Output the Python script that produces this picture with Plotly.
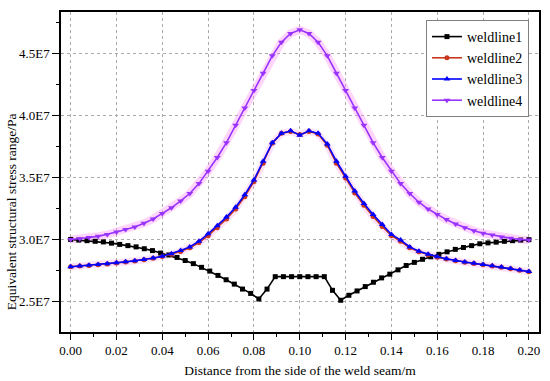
import plotly.graph_objects as go

# x positions (m)
x_w1 = [0, 0.00357, 0.00714, 0.01071, 0.01429, 0.01786, 0.02143, 0.025, 0.02857, 0.03214,
        0.03571, 0.03929, 0.04286, 0.04643, 0.05, 0.05357, 0.05714, 0.06071, 0.06429, 0.06786,
        0.07143, 0.075, 0.07857, 0.08214, 0.08571, 0.08929, 0.09286, 0.09643, 0.1, 0.10357,
        0.10714, 0.11071, 0.11429, 0.11786, 0.12143, 0.125, 0.12857, 0.13214, 0.13571, 0.13929,
        0.14286, 0.14643, 0.15, 0.15357, 0.15714, 0.16071, 0.16429, 0.16786, 0.17143, 0.175,
        0.17857, 0.18214, 0.18571, 0.18929, 0.19286, 0.19643, 0.2]
x_w = [0.000, 0.004, 0.008, 0.012, 0.016, 0.020, 0.024, 0.028, 0.032, 0.036,
       0.040, 0.044, 0.048, 0.052, 0.056, 0.060, 0.064, 0.068, 0.072, 0.076,
       0.080, 0.084, 0.088, 0.092, 0.096, 0.100, 0.104, 0.108, 0.112, 0.116,
       0.120, 0.124, 0.128, 0.132, 0.136, 0.140, 0.144, 0.148, 0.152, 0.156,
       0.160, 0.164, 0.168, 0.172, 0.176, 0.180, 0.184, 0.188, 0.192, 0.196, 0.200]

# stress values in units of 1E7 Pa
weldline1 = [3.000, 2.995, 2.990, 2.985, 2.980, 2.970, 2.960, 2.950, 2.940, 2.925,
             2.910, 2.890, 2.875, 2.855, 2.830, 2.805, 2.775, 2.745, 2.710, 2.675,
             2.640, 2.600, 2.565, 2.520, 2.600, 2.700, 2.700, 2.700, 2.700, 2.700,
             2.700, 2.700, 2.590, 2.510, 2.550, 2.585, 2.620, 2.655, 2.690, 2.720,
             2.755, 2.790, 2.815, 2.840, 2.860, 2.880, 2.900, 2.920, 2.935, 2.950,
             2.965, 2.972, 2.978, 2.985, 2.990, 2.995, 2.998]
weldline2 = [2.780, 2.785, 2.790, 2.796, 2.803, 2.810, 2.818, 2.826, 2.836, 2.848,
             2.862, 2.880, 2.903, 2.932, 2.975, 3.030, 3.095, 3.165, 3.245, 3.345,
             3.465, 3.615, 3.775, 3.855, 3.870, 3.845, 3.870, 3.850, 3.760, 3.615,
             3.495, 3.375, 3.275, 3.185, 3.105, 3.030, 2.985, 2.932, 2.900, 2.876,
             2.857, 2.842, 2.828, 2.816, 2.806, 2.796, 2.786, 2.776, 2.764, 2.752, 2.740]
weldline3 = [2.780, 2.786, 2.792, 2.798, 2.805, 2.812, 2.820, 2.828, 2.838, 2.850,
             2.865, 2.885, 2.910, 2.940, 2.985, 3.045, 3.110, 3.180, 3.260, 3.360,
             3.480, 3.630, 3.780, 3.855, 3.875, 3.840, 3.875, 3.855, 3.770, 3.630,
             3.510, 3.390, 3.290, 3.200, 3.120, 3.040, 2.995, 2.940, 2.905, 2.880,
             2.860, 2.845, 2.830, 2.818, 2.808, 2.798, 2.788, 2.778, 2.766, 2.754, 2.742]
weldline4 = [3.000, 3.005, 3.015, 3.025, 3.040, 3.060, 3.080, 3.100, 3.130, 3.165,
             3.210, 3.255, 3.310, 3.370, 3.450, 3.550, 3.660, 3.780, 3.920, 4.060,
             4.200, 4.340, 4.480, 4.590, 4.660, 4.690, 4.660, 4.590, 4.480, 4.340,
             4.200, 4.060, 3.920, 3.780, 3.660, 3.550, 3.450, 3.370, 3.300, 3.245,
             3.200, 3.160, 3.125, 3.095, 3.070, 3.050, 3.035, 3.020, 3.010, 3.000, 2.995]

x_ticks = [0.00, 0.02, 0.04, 0.06, 0.08, 0.10, 0.12, 0.14, 0.16, 0.18, 0.20]
x_tick_text = ["0.00", "0.02", "0.04", "0.06", "0.08", "0.10", "0.12", "0.14", "0.16", "0.18", "0.20"]
y_ticks = [2.5e7, 3.0e7, 3.5e7, 4.0e7, 4.5e7]
y_tick_text = ["2.5E7", "3.0E7", "3.5E7", "4.0E7", "4.5E7"]

E7 = 1e7
def sc(v):
    return [a * E7 for a in v]

FONT = "Liberation Serif"
PURPLE = "#9933FF"
RED = "#C8381E"

fig = go.Figure()

# halos (rendering glow as in the reference)
fig.add_trace(go.Scatter(x=x_w, y=sc(weldline2), mode="lines", showlegend=False, hoverinfo="skip",
                         line=dict(color="rgba(255,160,240,0.30)", width=7)))
fig.add_trace(go.Scatter(x=x_w, y=sc(weldline4), mode="lines", showlegend=False, hoverinfo="skip",
                         line=dict(color="rgba(255,150,245,0.40)", width=8)))

fig.add_trace(go.Scatter(x=x_w1, y=sc(weldline1), mode="lines+markers", name="weldline1",
                         line=dict(color="black", width=1.6),
                         marker=dict(symbol="square", size=5, color="black")))
fig.add_trace(go.Scatter(x=x_w, y=sc(weldline2), mode="lines+markers", name="weldline2",
                         line=dict(color=RED, width=1.6),
                         marker=dict(symbol="circle", size=5, color=RED)))
fig.add_trace(go.Scatter(x=x_w, y=sc(weldline3), mode="lines+markers", name="weldline3",
                         line=dict(color="#0000FF", width=1.6),
                         marker=dict(symbol="triangle-up", size=6, color="#0000FF")))
fig.add_trace(go.Scatter(x=x_w, y=sc(weldline4), mode="lines+markers", name="weldline4",
                         line=dict(color=PURPLE, width=1.6),
                         marker=dict(symbol="triangle-down", size=6, color=PURPLE)))

fig.update_layout(
    width=550, height=381,
    margin=dict(l=61, r=11, t=12, b=49, autoexpand=False),
    paper_bgcolor="white", plot_bgcolor="white",
    font=dict(family=FONT, size=13, color="black"),
    showlegend=True,
    legend=dict(x=0.979, y=0.975, xanchor="right", yanchor="top",
                bgcolor="white", bordercolor="#808080", borderwidth=1,
                font=dict(family=FONT, size=14, color="black"),
                tracegroupgap=0, itemwidth=30),
    xaxis=dict(range=[-0.0042, 0.2044], tickvals=x_ticks, ticktext=x_tick_text,
               automargin=False,
               showline=True, linecolor="black", linewidth=1.5, mirror=True,
               ticks="outside", ticklen=6, tickwidth=1.2, tickcolor="black",
               minor=dict(dtick=0.01, tick0=0, ticks="outside", ticklen=3, tickwidth=1, tickcolor="black", showgrid=False),
               showgrid=True, gridcolor="#AAAAAA", griddash="dot", gridwidth=1,
               zeroline=False, tickfont=dict(family=FONT, size=13),
               title=dict(text="Distance from the side of the weld seam/m", font=dict(family=FONT, size=13.5), standoff=8)),
    yaxis=dict(range=[2.254e7, 4.833e7], tickvals=y_ticks, ticktext=y_tick_text,
               automargin=False,
               showline=True, linecolor="black", linewidth=1.5, mirror=True,
               ticks="outside", ticklen=7, tickwidth=1.2, tickcolor="black",
               minor=dict(dtick=0.25e7, tick0=2.5e7, ticks="outside", ticklen=3, tickwidth=1, tickcolor="black", showgrid=False),
               showgrid=True, gridcolor="#AAAAAA", griddash="dot", gridwidth=1,
               zeroline=False, tickfont=dict(family=FONT, size=13)),
    annotations=[dict(text="Equivalent structural stress range/Pa", textangle=-90,
                      xref="paper", yref="paper", x=-0.104, y=0.375,
                      xanchor="center", yanchor="middle", showarrow=False,
                      font=dict(family=FONT, size=13.5))],
)

fig.write_html("out.html", config={"displayModeBar": False},
               post_script="document.body.style.margin='0';document.body.style.padding='0';")
